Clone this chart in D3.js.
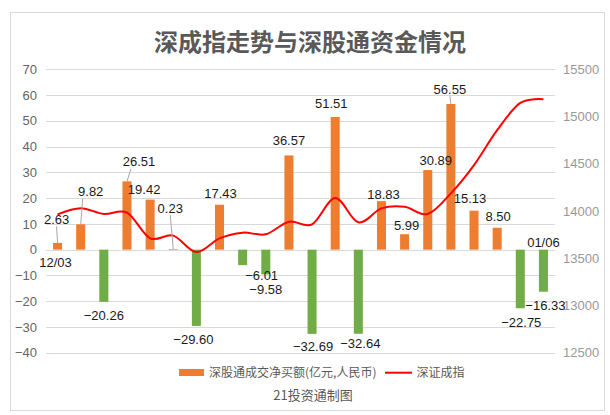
<!DOCTYPE html>
<html><head><meta charset="utf-8">
<script src="https://cdn.jsdelivr.net/npm/d3@7"></script>
<style>body{margin:0;background:#fff;}svg{display:block;}</style>
</head><body>
<svg id="c" width="610" height="415"></svg>
<script>
const categories = ["12/03","12/04","12/07","12/08","12/09","12/10","12/11","12/14","12/15","12/16","12/17","12/18","12/21","12/22","12/23","12/28","12/29","12/30","12/31","01/04","01/05","01/06"];
const netBuy = [2.63,9.82,-20.26,26.51,19.42,0.23,-29.60,17.43,-6.01,-9.58,36.57,-32.69,51.51,-32.64,18.83,5.99,30.89,56.55,15.13,8.50,-22.75,-16.33];
const szIndex = [13965,14030,13968,13982,13711,13739,13565,13711,13771,13754,13887,13859,14137,13880,14028,14045,13968,14187,14486,14856,15144,15183];
const leftTicks = [-40,-30,-20,-10,0,10,20,30,40,50,60,70];
const rightTicks = [12500,13000,13500,14000,14500,15000,15500];
const seriesNames = ["深股通成交净买额(亿元,人民币)","深证成指"];
const titleText = "深成指走势与深股通资金情况";
const sourceText = "21投资通制图";
// label nudges (layout only): [dx, dy, leader]
const labelNudge = [[-1,-23.5,1],[10,-32.6,1],[0,14,0],[12,-19.6,1],[-6,-10.3,0],[-3,-41,1],[-3,13.4,0],[1,-11.4,0],[19,10.8,0],[0,15.5,0],[0,-14.7,0],[1,13,0],[-4,-13.6,0],[2,9.6,0],[2,-7,0],[2,-8.5,0],[8,-10,0],[-1,-14.7,1],[-4,-12.3,0],[1,-11,0],[1,14.5,0],[2,14,0]];

const svg = d3.select("#c");
const numFont = "'Liberation Sans', Arial, 'Noto Sans CJK SC', sans-serif";
const cjkFont = "'Noto Sans CJK SC', 'Liberation Sans', sans-serif";

svg.append("rect").attr("x",10.5).attr("y",12.5).attr("width",594).attr("height",398)
  .attr("fill","#fff").attr("stroke","#d9d9d9");

const x = d3.scaleBand().domain(categories).range([46,555]).paddingInner(0.61).paddingOuter(0.305);
const y = d3.scaleLinear().domain([-40,70]).range([352.7,69.3]);
const y2 = d3.scaleLinear().domain([12500,15500]).range([352.7,69.3]);

// gridlines
svg.append("g").selectAll("line").data(leftTicks).join("line")
  .attr("x1",46).attr("x2",555).attr("y1",d=>Math.round(y(d))+0.5).attr("y2",d=>Math.round(y(d))+0.5)
  .attr("stroke","#d9d9d9").attr("stroke-width",1);

const fmt = d => (d<0?"\u2212"+Math.abs(d):String(d));
const gl = svg.append("g").attr("transform","translate(46,0)")
  .call(d3.axisLeft(y).tickValues(leftTicks).tickFormat(fmt).tickSize(0).tickPadding(9));
gl.select(".domain").remove();
gl.selectAll("text").attr("font-family",numFont).attr("font-size",13).attr("fill","#666");

const gr = svg.append("g").attr("transform","translate(555,0)")
  .call(d3.axisRight(y2).tickValues(rightTicks).tickFormat(d=>String(d)).tickSize(0).tickPadding(8));
gr.select(".domain").remove();
gr.selectAll("text").attr("font-family",numFont).attr("font-size",13).attr("fill","#999");

// bars
svg.append("g").selectAll("rect").data(netBuy).join("rect")
  .attr("x",(d,i)=>x(categories[i]))
  .attr("width",x.bandwidth())
  .attr("y",d=>y(Math.max(0,d)))
  .attr("height",d=>Math.abs(y(d)-y(0)))
  .attr("fill",d=>d>=0?"#ED7D31":"#70AD47");

// line
const line = d3.line().x((d,i)=>x(categories[i])+x.bandwidth()/2).y(d=>y2(d)).curve(d3.curveCardinal.tension(0));
svg.append("path").datum(szIndex).attr("d",line).attr("fill","none").attr("stroke","#FF0000").attr("stroke-width",2);

// data labels
const lg = svg.append("g");
netBuy.forEach((d,i)=>{
  const cx = x(categories[i])+x.bandwidth()/2;
  const ey = y(d);
  const [dx,dy,leader] = labelNudge[i];
  const lx = cx+dx, ly = ey+dy;
  if(leader){
    const ty = dy<0 ? ly+7 : ly-7;
    svg.insert("line","g.lbl").attr("x1",lx+(dx>5?-8:0)).attr("y1",ty).attr("x2",cx).attr("y2",ey)
      .attr("stroke","#a6a6a6").attr("stroke-width",1);
  }
  lg.append("text").attr("class","lbl").attr("x",lx).attr("y",ly).attr("dy","0.35em")
    .attr("text-anchor","middle").attr("font-family",numFont).attr("font-size",13).attr("fill","#1a1a1a")
    .text(d<0?"\u2212"+Math.abs(d).toFixed(2):d.toFixed(2));
});
// category labels for first and last
lg.append("text").attr("x",x(categories[0])+x.bandwidth()/2-2).attr("y",262.7).attr("dy","0.35em")
  .attr("text-anchor","middle").attr("font-family",numFont).attr("font-size",13).attr("fill","#1a1a1a").text(categories[0]);
lg.append("text").attr("x",x(categories[21])+x.bandwidth()/2).attr("y",242.7).attr("dy","0.35em")
  .attr("text-anchor","middle").attr("font-family",numFont).attr("font-size",13).attr("fill","#1a1a1a").text(categories[21]);

// title
svg.append("text").attr("x",310).attr("y",51).attr("text-anchor","middle")
  .attr("font-family",cjkFont).attr("font-size",24).attr("font-weight","bold").attr("fill","#595959").text(titleText);

// legend
svg.append("rect").attr("x",179).attr("y",369).attr("width",25).attr("height",7).attr("fill","#ED7D31");
svg.append("text").attr("x",209).attr("y",372.7).attr("dy","0.35em").attr("font-family",cjkFont).attr("font-size",12).attr("fill","#595959").text(seriesNames[0]);
svg.append("line").attr("x1",385).attr("x2",412).attr("y1",372.7).attr("y2",372.7).attr("stroke","#FF0000").attr("stroke-width",2);
svg.append("text").attr("x",416.5).attr("y",372.7).attr("dy","0.35em").attr("font-family",cjkFont).attr("font-size",12).attr("fill","#595959").text(seriesNames[1]);

svg.append("text").attr("x",313).attr("y",395).attr("dy","0.35em").attr("text-anchor","middle").attr("font-family",cjkFont).attr("font-size",13).attr("fill","#595959").text(sourceText);
</script>
</body></html>
